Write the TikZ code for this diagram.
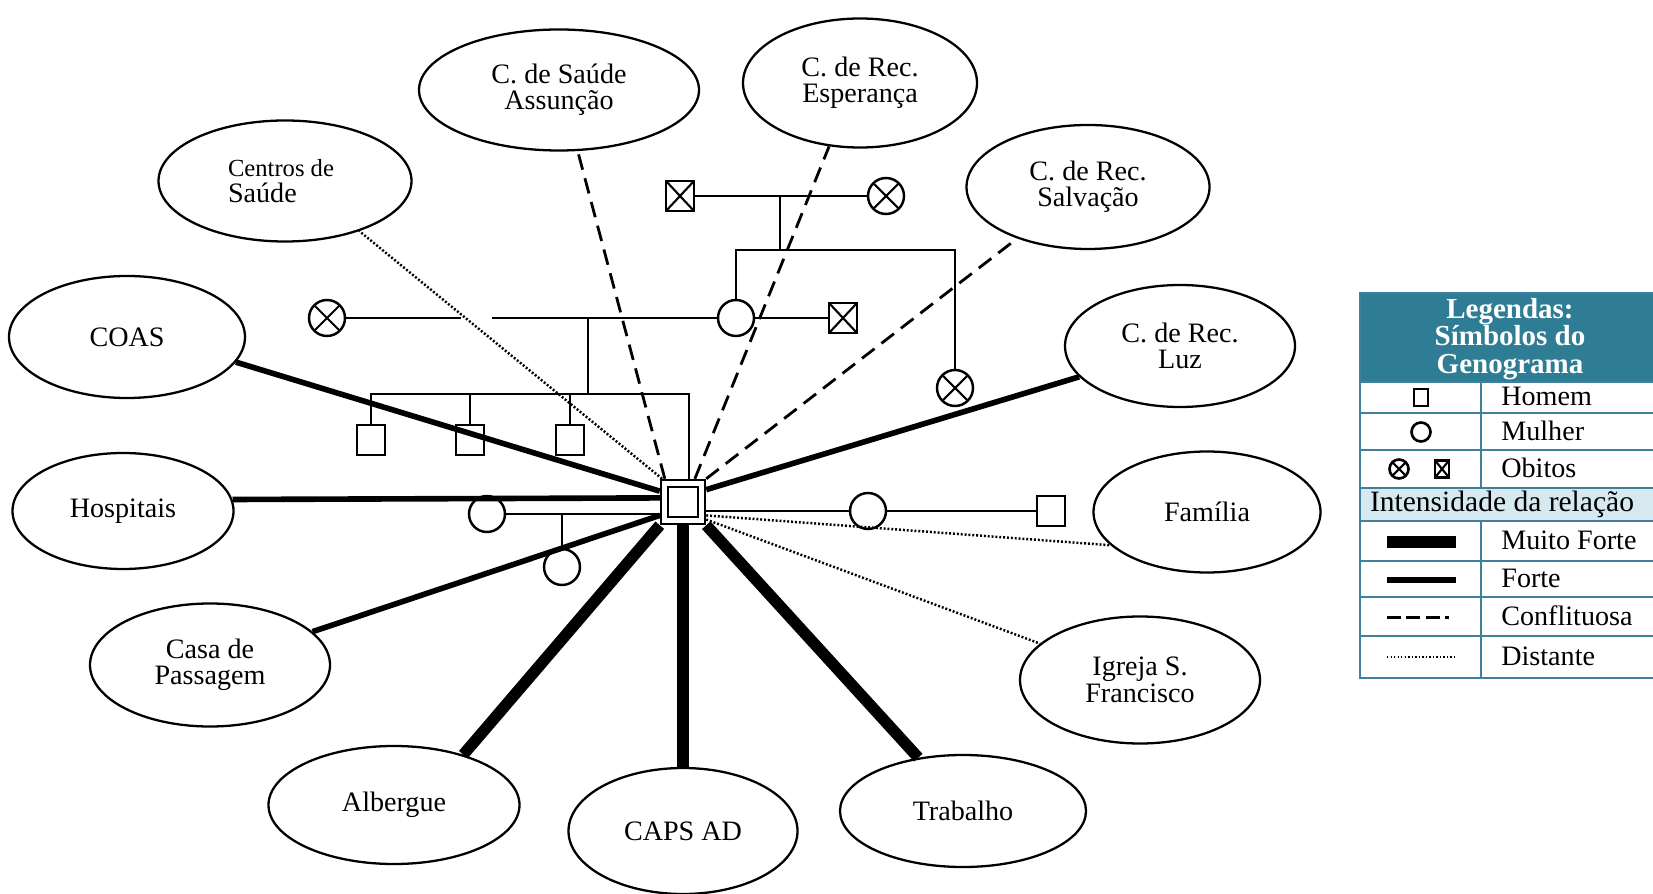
\documentclass[tikz,border=0pt]{standalone}
\usepackage{fontspec}
\setmainfont{Liberation Serif}
\usepackage{xcolor}
\usepackage{tikz}
\usetikzlibrary{shapes.geometric}
\definecolor{legteal}{RGB}{47,125,148}
\definecolor{legline}{RGB}{64,128,158}
\definecolor{leglight}{RGB}{214,233,240}

\begin{document}
\begin{tikzpicture}[
		font=\fontsize{16}{15}\selectfont,
		place/.style={draw, ellipse, line width=1.3pt, inner sep=0pt, align=center},
		ego/.style={draw, double, double distance=2.6pt, line width=1.4pt, minimum size=0.74cm, outer sep=2.7pt, fill=white},
		man/.style={draw, line width=1.4pt, minimum width=0.56cm, minimum height=0.6cm, inner sep=0pt},
		woman/.style={draw, circle, line width=1.4pt, minimum size=0.72cm, inner sep=0pt},
		dead/.style={path picture={\draw[line width=1.2pt] (path picture bounding box.north west) -- (path picture bounding box.south east) (path picture bounding box.north east) -- (path picture bounding box.south west);}},
		gen/.style={line width=1.4pt},
		forte/.style={line width=3.2pt},
		muitoforte/.style={line width=6.5pt},
		conflito/.style={line width=1.6pt, dash pattern=on 9pt off 5pt},
		distante/.style={line width=1.4pt, dash pattern=on 1.1pt off 1.1pt},
		legsym/.style={line width=1.5pt, minimum width=0.28cm, minimum height=0.34cm},
		legtext/.style={anchor=west, inner sep=0pt},
		legrule/.style={legline, line width=1pt}]
		\useasboundingbox (0,0) rectangle (33.06,-17.88);

		% rede de apoio
		\node[place, minimum width=5.06cm, minimum height=2.42cm] (cent) at (5.70,-3.62) {};
		\node[align=left] (centtxt) at (5.62,-3.62) {{\fontsize{14}{14}\selectfont Centros de}\\Saúde};
		\node[place, minimum width=5.60cm, minimum height=2.42cm] (assu) at (11.18,-1.80) {C. de Saúde\\Assunção};
		\node[place, minimum width=4.68cm, minimum height=2.58cm] (esp) at (17.20,-1.66) {C. de Rec.\\Esperança};
		\node[place, minimum width=4.86cm, minimum height=2.48cm] (salv) at (21.76,-3.74) {C. de Rec.\\Salvação};
		\node[place, minimum width=4.60cm, minimum height=2.44cm] (luz) at (23.60,-6.92) {C. de Rec.\\Luz};
		\node[place, minimum width=4.54cm, minimum height=2.42cm] (fam) at (24.14,-10.24) {Família};
		\node[place, minimum width=4.80cm, minimum height=2.54cm] (igr) at (22.80,-13.60) {Igreja S.\\Francisco};
		\node[place, minimum width=4.92cm, minimum height=2.24cm] (trab) at (19.26,-16.22) {Trabalho};
		\node[place, minimum width=4.58cm, minimum height=2.52cm] (caps) at (13.66,-16.62) {CAPS AD};
		\node[place, minimum width=5.02cm, minimum height=2.36cm] (alb) at (7.88,-16.10) {Albergue};
		\node[place, minimum width=4.80cm, minimum height=2.46cm] (casa) at (4.20,-13.30) {Casa de\\Passagem};
		\node[place, minimum width=4.42cm, minimum height=2.32cm] (hosp) at (2.46,-10.22) {Hospitais};
		\node[place, minimum width=4.72cm, minimum height=2.44cm] (coas) at (2.54,-6.74) {COAS};

		% genograma
		\node[ego] (ego) at (13.66,-10.04) {};
		\node[man, dead] (gf) at (13.60,-3.92) {};
		\node[woman, dead] (gm) at (17.72,-3.92) {};
		\coordinate (gpmid) at (15.60,-3.92);
		\coordinate (sib) at (15.60,-5.00);
		\node[woman] (mae) at (14.72,-6.36) {};
		\node[woman, dead] (tia) at (19.10,-7.76) {};
		\node[man, dead] (padr) at (16.86,-6.36) {};
		\node[woman, dead] (avo) at (6.54,-6.36) {};
		\coordinate (gapL) at (9.22,-6.36);
		\coordinate (gapR) at (9.84,-6.36);
		\coordinate (casal) at (11.76,-6.36);
		\coordinate (irm) at (11.76,-7.88);
		\node[man] (f1) at (7.42,-8.80) {};
		\node[man] (f2) at (9.40,-8.80) {};
		\node[man] (f3) at (11.40,-8.80) {};
		\node[woman] (espo) at (9.74,-10.28) {};
		\node[woman] (fil) at (11.24,-11.34) {};
		\node[woman] (nam) at (17.36,-10.22) {};
		\node[man] (nsq) at (21.02,-10.22) {};

		\draw[gen] (gf) -- (gm);
		\draw[gen] (gpmid) -- (sib);
		\draw[gen] (mae) |- (sib) -| (tia);
		\draw[gen] (mae) -- (padr);
		\draw[gen] (avo) -- (gapL);
		\draw[gen] (gapR) -- (mae);
		\draw[gen] (casal) -- (irm);
		\draw[gen] (f1) |- (irm) -| (ego.75);
		\draw[gen] (f2) -- (f2 |- irm);
		\draw[gen] (f3) -- (f3 |- irm);
		\draw[gen] (espo) -- (espo -| ego.west);
		\draw[gen] (fil) -- (fil |- espo);
		\draw[gen] (nam -| ego.east) -- (nam) -- (nsq);

		% intensidade das relacoes
		\draw[forte] (ego.155) -- (coas.-13);
		\draw[forte] (ego.170) -- (hosp.6);
		\draw[forte] (ego.210) -- (casa.18);
		\draw[muitoforte] (ego.south west) -- (alb.36);
		\draw[muitoforte] (ego) -- (caps);
		\draw[muitoforte] (ego.south east) -- (trab.130);
		\draw[forte] (ego.28) -- (luz.197);
		\draw[distante] (ego.-30) -- (fam.199);
		\draw[distante] (ego.-37) -- (igr.160);
		\draw[conflito] (ego.north east) -- (salv.216);
		\draw[conflito] (ego.63) -- (esp.244);
		\draw[conflito] (ego.128) -- (assu.287);
		\draw[distante] (ego.132) -- (cent.-34);

		% legenda
		\fill[legteal] (27.20,-5.86) rectangle (33.10,-7.64);
		\fill[leglight] (27.20,-9.76) rectangle (33.10,-10.42);
		\draw[legrule] (27.20,-5.86) rectangle (33.10,-13.56);
		\foreach \y in {-7.64,-8.26,-9.00,-9.76,-10.42,-11.22,-11.94,-12.72}
			\draw[legrule] (27.20,\y) -- (33.10,\y);
		\draw[legrule] (29.62,-7.64) -- (29.62,-9.76) (29.62,-10.42) -- (29.62,-13.56);
		\node[font=\fontsize{16.5}{15.5}\selectfont\bfseries, text=white, align=center] (legtit) at (30.20,-6.78) {Legendas:\\Símbolos do\\Genograma};
		\node[man, legsym] (lhom) at (28.42,-7.95) {};
		\node[woman, legsym, minimum size=0.38cm] (lmul) at (28.42,-8.64) {};
		\node[woman, dead, legsym, minimum size=0.38cm] (lobw) at (27.98,-9.38) {};
		\node[man, dead, legsym] (lobm) at (28.84,-9.38) {};
		\draw[muitoforte, line width=6.3pt] (27.74,-10.84) -- (29.12,-10.84);
		\draw[forte] (27.74,-11.60) -- (29.12,-11.60);
		\draw[line width=2pt, dash pattern=on 8pt off 3pt on 8pt off 3pt on 8pt off 3pt on 2pt off 10pt] (27.74,-12.35) -- (29.12,-12.35);
		\draw[line width=0.9pt, dash pattern=on 0.8pt off 1.2pt] (27.74,-13.14) -- (29.12,-13.14);
		\node[legtext] (thom) at (30.02,-7.93) {Homem};
		\node[legtext] (tmul) at (30.02,-8.61) {Mulher};
		\node[legtext] (tob) at (30.02,-9.36) {Obitos};
		\node[font=\fontsize{16.8}{15}\selectfont] (tint) at (30.04,-10.09) {Intensidade da relação};
		\node[legtext] (tmf) at (30.02,-10.80) {Muito Forte};
		\node[legtext] (tfo) at (30.02,-11.56) {Forte};
		\node[legtext] (tcf) at (30.02,-12.31) {Conflituosa};
		\node[legtext] (tdi) at (30.02,-13.12) {Distante};
	\end{tikzpicture}
\end{document}
